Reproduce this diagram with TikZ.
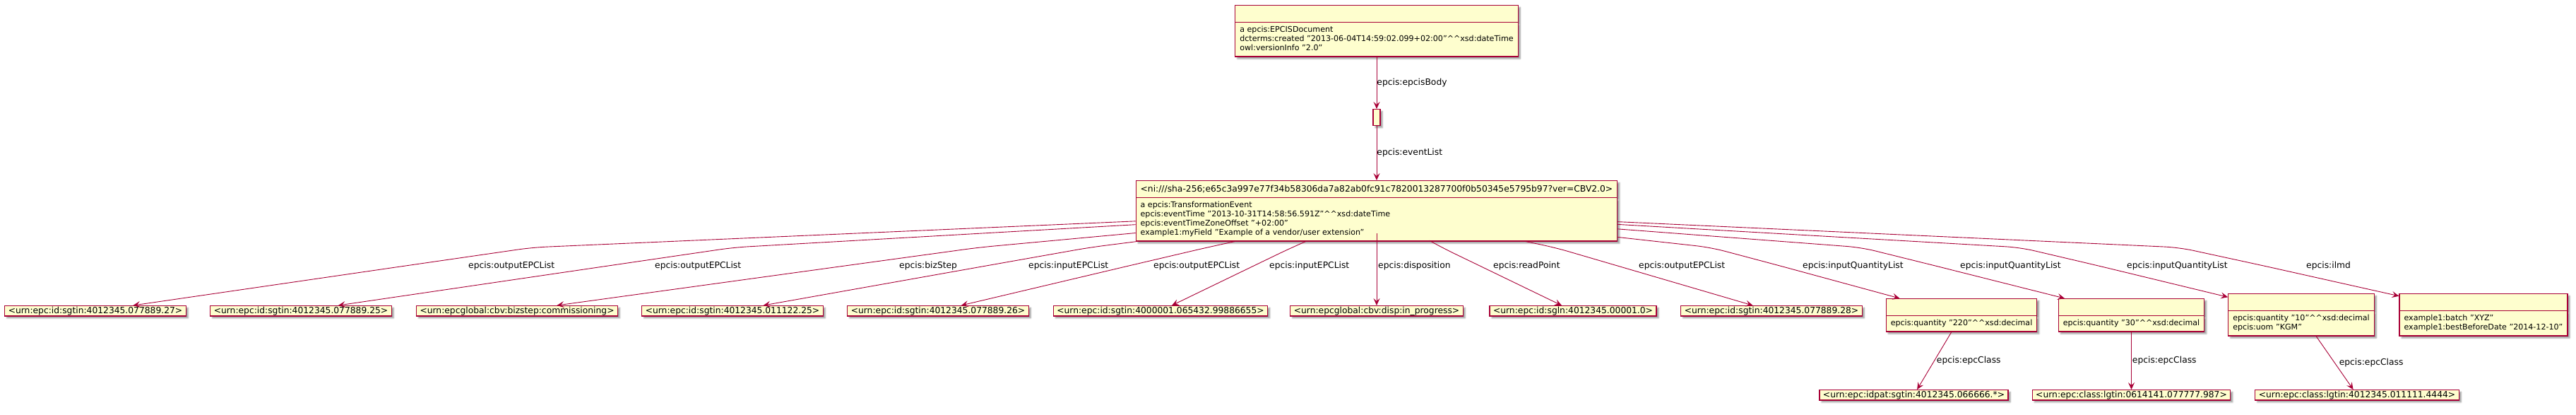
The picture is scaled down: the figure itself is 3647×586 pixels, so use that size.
\documentclass[tikz,border=0pt]{standalone}
\usepackage{fontspec}
\setmainfont{DejaVu Sans}
\usetikzlibrary{arrows.meta,shapes.multipart,shadows.blur}
\definecolor{umlred}{RGB}{168,0,54}
\definecolor{umlfill}{RGB}{254,254,206}
\newcommand\hdfont{\fontsize{12.3}{14}\selectfont}
\newcommand\bdfont{\fontsize{11.1}{13}\selectfont}
\newcommand\dcaret{\textasciicircum\textasciicircum}
\newcommand\hstrut{\rule[-4pt]{0pt}{15pt}}
\newcommand\attrs[1]{{\bdfont\begin{tabular}{@{}l@{}}#1\end{tabular}}}
\tikzstyle{umlshadow}=[blur shadow={shadow xshift=3pt,shadow yshift=-3pt,shadow blur radius=2pt,shadow opacity=40}]
\tikzstyle{obj}=[shape=rectangle,draw=umlred,fill=umlfill,line width=1.2pt,inner xsep=5pt,inner ysep=0.8pt,text height=9.8pt,text depth=2.9pt,font=\hdfont,umlshadow]
\tikzstyle{rec}=[rectangle split,rectangle split parts=2,rectangle split part align={center,left},draw=umlred,fill=umlfill,line width=1.2pt,inner xsep=6.5pt,inner ysep=4pt,font=\hdfont,umlshadow]
\tikzstyle{lbl}=[font=\hdfont,inner sep=0pt]
\tikzstyle{link}=[draw=umlred,line width=0.9pt,rounded corners=20pt]

\begin{document}
\begin{tikzpicture}[x=1pt, y=-1pt, ->, >={Stealth[length=10pt,width=9pt,inset=4pt]}]
	\useasboundingbox (0,0) rectangle (3647,586);
	\node[rec, anchor=north] (doc) at (1949,7) {\hstrut\nodepart{two}\attrs{a epcis:EPCISDocument\\dcterms:created "2013-06-04T14:59:02.099+02:00"\dcaret xsd:dateTime\\owl:versionInfo "2.0"}};
	\node[shape=rectangle, draw=umlred, fill=umlfill, line width=1.2pt, minimum width=10pt, minimum height=23pt, inner sep=0pt, umlshadow, anchor=north] (body) at (1949,154) {};
	\node[rec, anchor=north] (ev) at (1949,255) {\hstrut<ni:///sha-256;e65c3a997e77f34b58306da7a82ab0fc91c7820013287700f0b50345e5795b97?ver=CBV2.0>\nodepart{two}\attrs{a epcis:TransformationEvent\\epcis:eventTime "2013-10-31T14:58:56.591Z"\dcaret xsd:dateTime\\epcis:eventTimeZoneOffset "+02:00"\\example1:myField "Example of a vendor/user extension"}};
	\path (doc.south) edge[link] node[lbl, right] {epcis:epcisBody} (body.north);
	\path (body.south) edge[link] node[lbl, right] {epcis:eventList} (ev.north);
	% bottom row
	\foreach \i/\x/\name in {1/135/{<urn:epc:id:sgtin:4012345.077889.27>}, 2/426/{<urn:epc:id:sgtin:4012345.077889.25>}, 3/732/{<urn:epcglobal:cbv:bizstep:commissioning>}, 4/1037/{<urn:epc:id:sgtin:4012345.011122.25>}, 5/1328/{<urn:epc:id:sgtin:4012345.077889.26>}, 6/1643/{<urn:epc:id:sgtin:4000001.065432.99886655>}, 7/1949/{<urn:epcglobal:cbv:disp:in\_progress>}, 8/2227/{<urn:epc:id:sgln:4012345.00001.0>}, 9/2508/{<urn:epc:id:sgtin:4012345.077889.28>}}
	\node[obj, anchor=north] (b\i) at (\x,432) {\name};
	\node[rec, anchor=north] (b10) at (2777,422) {\hstrut\nodepart{two}\attrs{epcis:quantity "220"\dcaret xsd:decimal}};
	\node[rec, anchor=north] (b11) at (3017.5,422) {\hstrut\nodepart{two}\attrs{epcis:quantity "30"\dcaret xsd:decimal}};
	\node[rec, anchor=north] (b12) at (3258,415) {\hstrut\nodepart{two}\attrs{epcis:quantity "10"\dcaret xsd:decimal\\epcis:uom "KGM"}};
	\node[rec, anchor=north] (b13) at (3516,415) {\hstrut\nodepart{two}\attrs{example1:batch "XYZ"\\example1:bestBeforeDate "2014-12-10"}};
	\foreach \i/\ux/\wx/\lx/\prop in {1/754/574/663/outputEPCList, 2/1039/861/927/outputEPCList, 3/1386/1196/1273/bizStep, 4/1543/1396/1456/inputEPCList, 5/1709/1598/1633/outputEPCList, 6/1829/1775/1797/inputEPCList, 7/1949/1949/1951/disposition, 8/2041/2095/2114/readPoint, 9/2201/2290/2320/outputEPCList, 10/2422/2520/2552/inputQuantityList, 11/2635/2740/2775/inputQuantityList, 12/2860/2971/3011/inputQuantityList, 13/3085/3205/3265/ilmd}
	{
		\coordinate (u\i) at (\ux,350);
		\coordinate (w\i) at (\wx,376);
		\node[lbl, anchor=west] (l\i) at (\lx,376) {epcis:\prop};
		\draw[link] (ev) -- (u\i) -- (w\i) -- (b\i);
	}
	% classes
	\foreach \i/\x/\name in {1/2709.5/{<urn:epc:idpat:sgtin:4012345.066666.*>}, 2/3017.5/{<urn:epc:class:lgtin:0614141.077777.987>}, 3/3337/{<urn:epc:class:lgtin:4012345.011111.4444>}}
	\node[obj, anchor=north] (c\i) at (\x,551) {\name};
	\path (b10) edge[link] node[lbl, right=3pt] {epcis:epcClass} (c1);
	\path (b11) edge[link] node[lbl, right=1pt] {epcis:epcClass} (c2);
	\path (b12) edge[link] node[lbl, right=6pt] {epcis:epcClass} (c3);
\end{tikzpicture}
\end{document}
